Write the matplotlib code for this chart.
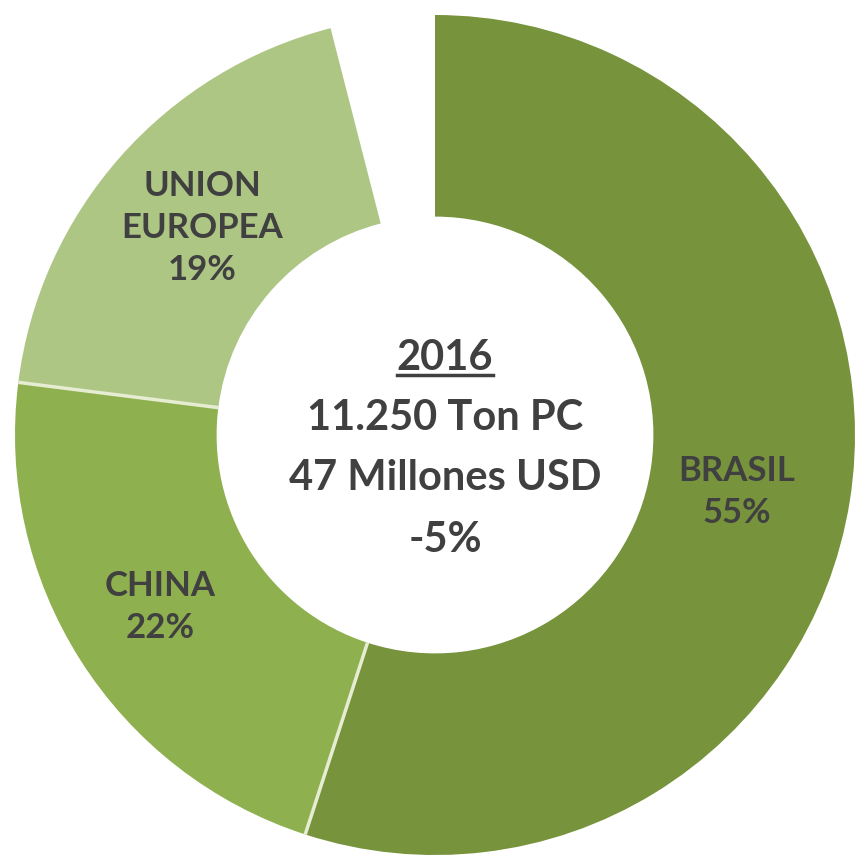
import numpy as np
import matplotlib.pyplot as plt

# --------------------------------------------------
# Data
# --------------------------------------------------

regions = ["BRASIL", "CHINA", "UNION\nEUROPEA", ""]
shares = [55, 22, 19, 4]          # last slice = empty gap at top
colors = ["#77933C", "#8FB04F", "#ADC684", "none"]

center_lines = ["2016", "11.250 Ton PC", "47 Millones USD", "-5%"]

TEXT_COLOR = "#404040"
SEP_COLOR = "#E6EDD2"
FONT = ["Lato", "DejaVu Sans"]

# --------------------------------------------------
# Plot
# --------------------------------------------------

fig = plt.figure(figsize=(8.55, 8.55), dpi=100)
ax = fig.add_axes([0, 0, 1, 1])

cx, cy, r = 435, 420, 420
ring = r * 0.48
wedges, _ = ax.pie(
    shares,
    colors=colors,
    startangle=90,
    counterclock=False,
    center=(cx, cy),
    radius=r,
    wedgeprops=dict(width=ring, linewidth=0),
)
wedges[-1].set_visible(False)

# thin separators between Brasil/China and China/UE
for w in wedges[1:3]:
    a = np.deg2rad(w.theta2)
    ax.plot([cx + (r - ring) * np.cos(a), cx + r * np.cos(a)],
            [cy + (r - ring) * np.sin(a), cy + r * np.sin(a)],
            color=SEP_COLOR, linewidth=2.5, solid_capstyle="butt")

ax.set_xlim(0, 855)
ax.set_ylim(0, 855)
ax.set_aspect("equal")
ax.axis("off")

# Slice labels (percentages taken from the shares list)
label_pos = [(737, 855 - 492), (160, 855 - 607), (202, 855 - 228)]
for (x, y), name, val in zip(label_pos, regions[:3], shares[:3]):
    ax.text(x, y, f"{name}\n{val}%", ha="center", va="center",
            fontsize=25, fontweight="bold", color=TEXT_COLOR,
            family=FONT, linespacing=1.4)

# Centre text
ys = [855 - 358, 855 - 418, 855 - 478, 855 - 540]
texts = []
for line, y in zip(center_lines, ys):
    t = ax.text(cx + 10, y, line, ha="center", va="center", fontsize=30,
                fontweight="bold", color=TEXT_COLOR, family=FONT)
    texts.append(t)

# Underline the year
fig.canvas.draw()
bb = texts[0].get_window_extent().transformed(ax.transData.inverted())
ax.plot([bb.x0, bb.x1], [bb.y0 + 2, bb.y0 + 2], color=TEXT_COLOR, linewidth=2.5)

fig.savefig("out.png", dpi=100, facecolor="white")
